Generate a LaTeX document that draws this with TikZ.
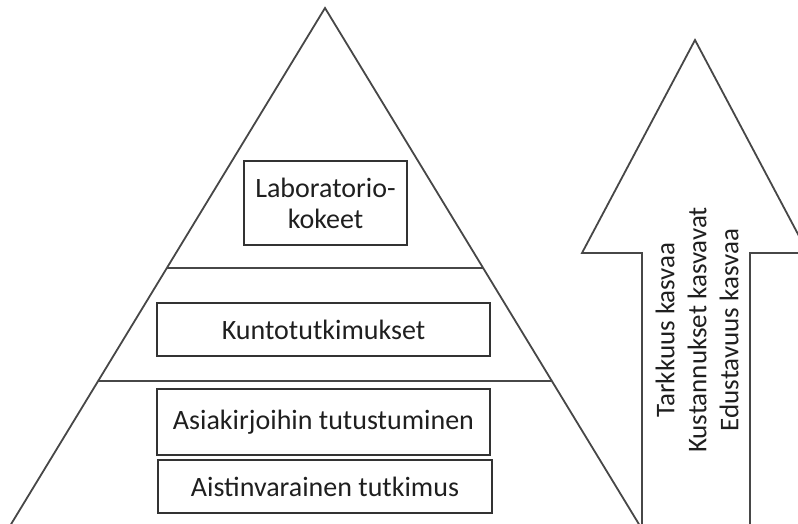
\documentclass[tikz,border=0pt]{standalone}
\usepackage{fontspec}
\setmainfont{Carlito}
\usetikzlibrary{calc}
\begin{document}
\begin{tikzpicture}[x=1pt,y=-1pt,
  edge/.style={line width=1.8pt, draw=black!72},
  levelbox/.style={draw=black!80, line width=1.5pt, inner sep=0pt, align=center,
    font=\fontsize{28}{31}\selectfont, text=black!88},
  arrowtext/.style={inner sep=0pt, align=center, rotate=90,
    font=\fontsize{27}{32}\selectfont, text=black!88}]
\useasboundingbox (0,0) rectangle (798,524);
\clip (0,0) rectangle (798,524);

% pyramid corners
\coordinate (apex) at (325,8);
\coordinate (bl) at (-1,544);
\coordinate (br) at (651,544);

% pyramid sides and level dividers
\draw[edge] (bl) -- (apex) -- (br);
\draw[edge] ($(apex)!0.4846!(bl)$) coordinate (d1l) -- ($(apex)!0.4846!(br)$) coordinate (d1r);
\draw[edge] ($(apex)!0.6953!(bl)$) coordinate (d2l) -- ($(apex)!0.6953!(br)$) coordinate (d2r);

% levels
\node[levelbox, minimum width=163pt, minimum height=84pt] (lab) at (325.5,203) {Laboratorio-\\kokeet};
\node[levelbox, minimum width=333pt, minimum height=53pt] (kunto) at (323.5,329.5) {Kuntotutkimukset};
\node[levelbox, minimum width=333pt, minimum height=66pt] (asia) at (323.5,422) {Asiakirjoihin tutustuminen};
\node[levelbox, minimum width=334pt, minimum height=53pt] (aisti) at (325,486.5) {Aistinvarainen tutkimus};

% upward arrow
\coordinate (tip) at (695,40);
\draw[edge] (tip) -- (808,253) -- (750,253) -- (750,540) -- (642,540) -- (642,253) -- (582,253) -- cycle;
\node[arrowtext] (trend) at (697,330) {Tarkkuus kasvaa\\Kustannukset kasvavat\\Edustavuus kasvaa};
\end{tikzpicture}
\end{document}
